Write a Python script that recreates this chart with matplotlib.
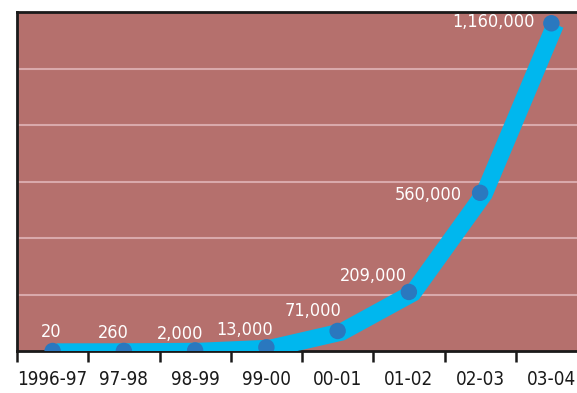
import matplotlib
matplotlib.use("Agg")
import matplotlib.pyplot as plt
import matplotlib.transforms as mtransforms

# Datos del grafico
periodos = ["1996-97", "97-98", "98-99", "99-00", "00-01", "01-02", "02-03", "03-04"]
valores = [20, 260, 2000, 13000, 71000, 209000, 560000, 1160000]
etiquetas = ["20", "260", "2,000", "13,000", "71,000", "209,000", "560,000", "1,160,000"]

# desplazamiento de cada etiqueta (pixeles, alineada a la derecha)
despl = [(9, 19), (5, 18), (8, 16), (7, 17), (4, 20), (-2, 16), (-18, -2), (-17, 1)]

fondo = "#B5706D"
cian = "#00B7EE"
azul = "#2A78BF"
rejilla = "#D9A9AB"

fig = plt.figure(figsize=(5.77, 3.93), dpi=100)
ax = fig.add_axes([17 / 577, 42 / 393, 570 / 577, 339 / 393])
ax.set_facecolor(fondo)

x = [i + 0.5 for i in range(len(valores))]

# linea gruesa, un poco desplazada como en el original
off = mtransforms.offset_copy(ax.transData, fig=fig, x=4, y=-1, units="dots")
ax.plot(x, valores, color=cian, lw=12.5, solid_capstyle="butt",
        solid_joinstyle="miter", transform=off, zorder=3)
ax.scatter(x, valores, s=140, color=azul, zorder=4, edgecolors="none")

for xi, v, t, (dx, dy) in zip(x, valores, etiquetas, despl):
    ax.annotate(t, (xi, v), xytext=(dx, dy), textcoords="offset pixels",
                ha="right", va="center", color="white", fontsize=13,
                fontstretch="condensed", zorder=5)

ax.set_xlim(0, len(valores))
ax.set_ylim(0, 1200000)
ax.set_yticks(range(200000, 1200001, 200000))
ax.yaxis.grid(True, color=rejilla, lw=1.5)
ax.set_axisbelow(True)
ax.tick_params(axis="y", left=False, labelleft=False)

# ticks en los limites, etiquetas centradas
ax.set_xticks(range(len(valores) + 1))
ax.set_xticklabels([])
ax.set_xticks(x, minor=True)
ax.set_xticklabels(periodos, minor=True, fontsize=13.5, fontstretch="condensed",
                   color="#1a1a1a")
ax.tick_params(axis="x", which="major", length=8, width=1.8, color="#1a1a1a")
ax.tick_params(axis="x", which="minor", length=0, pad=14)

for lado in ["left", "top", "bottom"]:
    ax.spines[lado].set_color("#1a1a1a")
    ax.spines[lado].set_linewidth(2)
ax.spines["right"].set_visible(False)

plt.savefig("out.png", dpi=100)
